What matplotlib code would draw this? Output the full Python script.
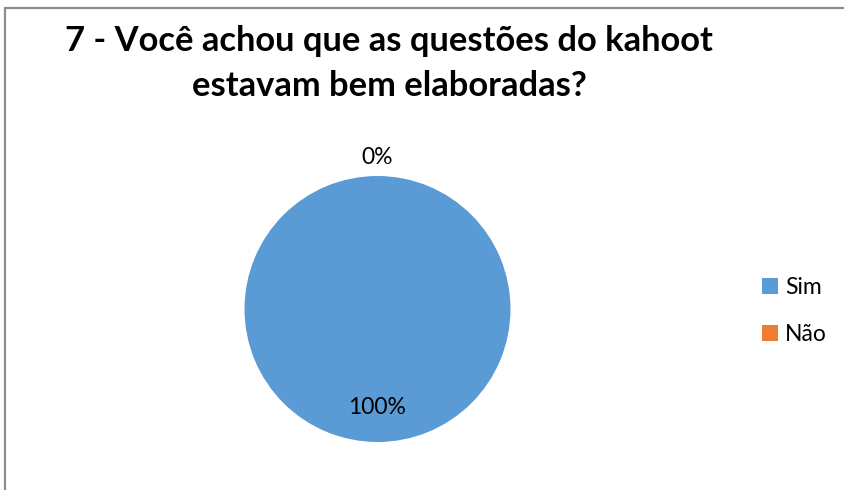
import matplotlib
matplotlib.use("Agg")
import matplotlib.pyplot as plt
from matplotlib.patches import Rectangle
import numpy as np

title = "7 - Você achou que as questões do kahoot\nestavam bem elaboradas?"
labels = ["Sim", "Não"]
values = [100, 0]
colors = ["#5B9BD5", "#ED7D31"]

plt.rcParams['font.family'] = ['Lato', 'DejaVu Sans']

W, H = 844, 490
fig = plt.figure(figsize=(W / 100, H / 100), dpi=100)

# chart border (only top and left visible in the reference)
fig.patches.append(Rectangle((5 / W, -0.05), 1.0, 1 - 8.5 / H + 0.05,
                             transform=fig.transFigure, fill=False,
                             edgecolor="#8c8c8c", linewidth=1.6))

fig.text(389 / W, 1 - 63.5 / H, title, ha="center", va="center",
         fontsize=24.8, fontweight="bold", linespacing=1.5)

# pie axes: center (377.5, 309), radius 133 px
cx, cy, r = 377.5, 309, 133
ax = fig.add_axes([(cx - r) / W, 1 - (cy + r) / H, 2 * r / W, 2 * r / H])
wedges, _ = ax.pie(values, colors=colors, startangle=90, counterclock=False,
                   radius=1.0, wedgeprops=dict(linewidth=0))
ax.set_xlim(-1, 1)
ax.set_ylim(-1, 1)
ax.set_aspect("equal")
ax.axis("off")

total = sum(values)
for w, v in zip(wedges, values):
    ang = np.deg2rad((w.theta1 + w.theta2) / 2)
    d = 0.74 if v > 0 else 1.14
    ax.text(d * np.cos(ang), d * np.sin(ang), f"{v / total:.0%}",
            ha="center", va="center", fontsize=16.5, clip_on=False)

fig.legend(wedges, labels, loc="center left",
           bbox_to_anchor=(762 / W, 1 - 311 / H), frameon=False,
           fontsize=16.5, handlelength=0.7, handleheight=0.7,
           handletextpad=0.3, labelspacing=1.1, borderaxespad=0,
           borderpad=0)

fig.savefig("out.png", dpi=100)
